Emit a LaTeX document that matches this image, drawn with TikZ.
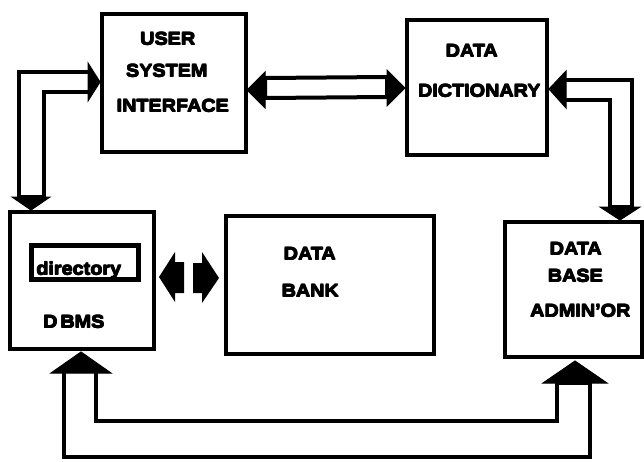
\documentclass[tikz,border=0pt]{standalone}
\usepackage{fontspec}
\newfontfamily\heavyfont{Liberation Sans Bold}[FakeStretch=1.1]
\newcommand\heavytext[1]{\rlap{\hspace{0.7pt}#1}\rlap{\raisebox{0.6pt}{#1}}\rlap{\hspace{0.7pt}\raisebox{0.6pt}{#1}}\rlap{\hspace{0.35pt}\raisebox{-0.3pt}{#1}}#1}
\begin{document}
\begin{tikzpicture}[x=1pt,y=-1pt,
  box/.style={draw,line width=4pt,inner sep=0pt,rectangle},
  lbl/.style={anchor=base,inner sep=0pt,font=\heavyfont\fontsize{18}{18}\selectfont},
  shaft/.style={draw,line width=4pt,fill=white,line join=miter},
  head/.style={fill=black,draw=black,line width=1pt,line join=miter}]
\useasboundingbox (0,0) rectangle (644,461);
% boxes
\node[box,minimum width=144pt,minimum height=138pt] (usi) at (174,83) {};
\node[box,minimum width=140pt,minimum height=135pt] (dd) at (477,87.5) {};
\node[box,minimum width=144pt,minimum height=137pt] (dbms) at (82,280.5) {};
\node[box,minimum width=208pt,minimum height=138pt] (bank) at (330,285) {};
\node[box,minimum width=137pt,minimum height=135pt] (admin) at (573.5,289.5) {};
\node[draw,line width=5pt,inner sep=0pt,minimum width=107pt,minimum height=34pt] (dir) at (85,262.5) {};
% labels
\node[lbl] (t1) at (167.5,45) {\heavytext{USER}};
\node[lbl] (t2) at (166.5,77) {\heavytext{SYSTEM}};
\node[lbl] (t3) at (172.5,112) {\heavytext{INTERFACE}};
\node[lbl] (t4) at (471.5,57) {\heavytext{DATA}};
\node[lbl] (t5) at (479,97) {\heavytext{DICTIONARY}};
\node[lbl] (t6) at (78.5,275) {\heavytext{directory}};
\node[lbl] (t7) at (73.5,328) {\heavytext{D\,BMS}};
\node[lbl] (t8) at (309.5,260) {\heavytext{DATA}};
\node[lbl] (t9) at (310,297) {\heavytext{BANK}};
\node[lbl] (t10) at (575.5,255) {\heavytext{DATA}};
\node[lbl] (t11) at (575,282) {\heavytext{BASE}};
\node[lbl] (t12) at (580,317) {\heavytext{ADMIN’OR}};
% tips
\coordinate (a1t) at (100,82);
\coordinate (a1b) at (31,210);
\coordinate (a2l) at (247,90);
\coordinate (a2r) at (405,88);
\coordinate (a3l) at (549,89);
\coordinate (a3b) at (620,220);
\coordinate (a4l) at (159,277);
\coordinate (a4r) at (219,278);
\coordinate (a5l) at (81,352);
\coordinate (a5r) at (575,361);
% left L arrow: usi <-> dbms
\draw[shaft] (88,72) -- (19,72) -- (19,197) -- (44,197) -- (44,92) -- (88,92);
\draw[head] (88,63) -- (a1t) -- (88,101) -- cycle;
\draw[head] (12,197) -- (a1b) -- (50,197) -- cycle;
% horizontal usi <-> dd
\draw[shaft] (265,78) -- (387,77) -- (387,97) -- (265,98) -- cycle;
\draw[head] (265,72) -- (a2l) -- (265,108) -- cycle;
\draw[head] (387,70) -- (a2r) -- (387,106) -- cycle;
% right L arrow: dd <-> admin
\draw[shaft] (566,80) -- (632,80) -- (632,207) -- (610,207) -- (610,100) -- (566,100);
\draw[head] (566,71) -- (a3l) -- (566,108) -- cycle;
\draw[head] (600,207) -- (a3b) -- (640,207) -- cycle;
% middle dbms <-> bank
\fill (184,262) -- (175,262) -- (175,252) -- (a4l) -- (175,302) -- (175,293) -- (184,293) -- cycle;
\fill (193,263) -- (202,263) -- (202,252) -- (a4r) -- (202,303) -- (202,293) -- (193,293) -- cycle;
% bottom U: dbms <-> admin
\draw[shaft] (64,373) -- (64,457) -- (590,457) -- (590,383) -- (557,383) -- (557,421) -- (96,421) -- (96,373);
\draw[head] (51,373) -- (a5l) -- (111,373) -- cycle;
\draw[head] (543,383) -- (a5r) -- (607,383) -- cycle;
\end{tikzpicture}
\end{document}
